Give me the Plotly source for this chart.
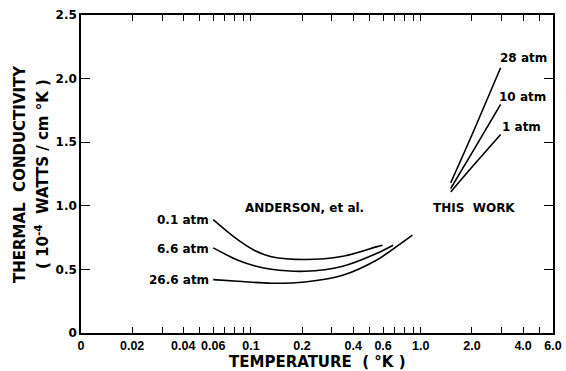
import numpy as np
import plotly.graph_objects as go

# Anderson et al. curves (temperature in K, conductivity in 1e-4 W/cm K)
t_01 = [0.060, 0.084, 0.106, 0.132, 0.208, 0.347, 0.548, 0.596]
k_01 = [0.892, 0.732, 0.647, 0.600, 0.578, 0.603, 0.677, 0.690]

t_66 = [0.060, 0.084, 0.106, 0.132, 0.208, 0.347, 0.548, 0.687]
k_66 = [0.669, 0.572, 0.527, 0.501, 0.485, 0.525, 0.625, 0.690]

t_266 = [0.060, 0.084, 0.132, 0.208, 0.347, 0.548, 0.687, 0.893]
k_266 = [0.420, 0.407, 0.391, 0.401, 0.454, 0.572, 0.660, 0.769]

# Present measurements
t_work = [1.50, 2.05, 2.95]
k_28 = [1.180, 1.590, 2.085]
k_10 = [1.136, 1.440, 1.797]
k_1 = [1.109, 1.320, 1.561]

# Axis ticks
x_label_vals = [0.01, 0.02, 0.04, 0.06, 0.1, 0.2, 0.4, 0.6, 1.0, 2.0, 4.0, 6.0]
x_label_text = ["0", "0.02", "0.04", "0.06", "0.1", "0.2", "0.4", "0.6", "1.0", "2.0", "4.0", "6.0"]
x_minor_vals = [0.03, 0.05, 0.07, 0.08, 0.09, 0.3, 0.5, 0.7, 0.8, 0.9, 3.0, 5.0]
x_decade_vals = [0.1, 1.0]
y_vals = [0, 0.5, 1.0, 1.5, 2.0, 2.5]
y_text = ["0", "0.5", "1.0", "1.5", "2.0", "2.5"]

FONT = "DejaVu Sans"
TICK_FONT = "Liberation Sans"
line_style = dict(color="black", width=1.6, shape="spline", smoothing=1.0)

fig = go.Figure()
for t, k in [(t_01, k_01), (t_66, k_66), (t_266, k_266),
             (t_work, k_28), (t_work, k_10), (t_work, k_1)]:
    fig.add_trace(go.Scatter(x=t, y=k, mode="lines", line=line_style,
                             showlegend=False, hoverinfo="skip"))

all_x = sorted(x_label_vals + x_minor_vals)
x_text = [x_label_text[x_label_vals.index(v)] if v in x_label_vals else "" for v in all_x]

xr = [np.log10(0.01), np.log10(6.0)]
fig.update_layout(
    width=566, height=371,
    margin=dict(l=81, r=13, t=15, b=38),
    paper_bgcolor="white", plot_bgcolor="white",
    font=dict(family=FONT, color="black", size=12, weight="bold"),
    xaxis=dict(type="log", range=xr, tickvals=all_x, ticktext=x_text,
               tickangle=0, automargin=False,
               ticks="inside", ticklen=6, tickwidth=1.3, tickcolor="black",
               showline=True, linecolor="black", linewidth=1.6, mirror="ticks",
               showgrid=False, zeroline=False,
               tickfont=dict(family=TICK_FONT, size=12.5, weight="bold")),
    xaxis2=dict(type="log", range=xr, overlaying="x", anchor="y", side="bottom",
                tickvals=x_decade_vals, showticklabels=False, automargin=False,
                ticks="inside", ticklen=12, tickwidth=1.3, tickcolor="black",
                showline=False, mirror="ticks", showgrid=False, zeroline=False),
    yaxis=dict(range=[0, 2.5], tickvals=y_vals, ticktext=y_text, automargin=False,
               ticks="inside", ticklen=9, tickwidth=1.3, tickcolor="black",
               showline=True, linecolor="black", linewidth=1.6, mirror="ticks",
               showgrid=False, zeroline=False,
               tickfont=dict(family=FONT, size=12, weight="bold")),
)


def lx(v):
    return np.log10(v)


txt = dict(family=FONT, size=12, color="black", weight="bold")
labels = [
    ("0.1 atm", 0.058, 0.885, "right"),
    ("6.6 atm", 0.058, 0.660, "right"),
    ("26.6 atm", 0.058, 0.415, "right"),
    ("ANDERSON, et al.", 0.208, 0.980, "center"),
    ("THIS&nbsp; WORK", 2.05, 0.980, "center"),
    ("28 atm", 2.85, 2.160, "left"),
    ("10 atm", 2.82, 1.855, "left"),
    ("1 atm", 2.92, 1.620, "left"),
]
for text, t, k, anchor in labels:
    fig.add_annotation(x=lx(t), y=k, xref="x", yref="y", text=text,
                       showarrow=False, xanchor=anchor, yanchor="middle", font=txt)

# Axis titles
fig.add_annotation(x=0.5, y=0, xref="paper", yref="paper", yshift=-29,
                   text="TEMPERATURE&nbsp; ( °K )", showarrow=False,
                   xanchor="center", yanchor="middle",
                   font=dict(family=FONT, size=15, color="black", weight="bold"))
fig.add_annotation(x=0, y=0.5, xref="paper", yref="paper", xshift=-61,
                   text="THERMAL&nbsp; CONDUCTIVITY", showarrow=False, textangle=-90,
                   xanchor="center", yanchor="middle",
                   font=dict(family=FONT, size=15, color="black", weight="bold"))
fig.add_annotation(x=0, y=0.5, xref="paper", yref="paper", xshift=-39,
                   text="( 10<sup>-4</sup>&nbsp; WATTS / cm °K )", showarrow=False, textangle=-90,
                   xanchor="center", yanchor="middle",
                   font=dict(family=FONT, size=15, color="black", weight="bold"))

fig.write_html("out.html")
